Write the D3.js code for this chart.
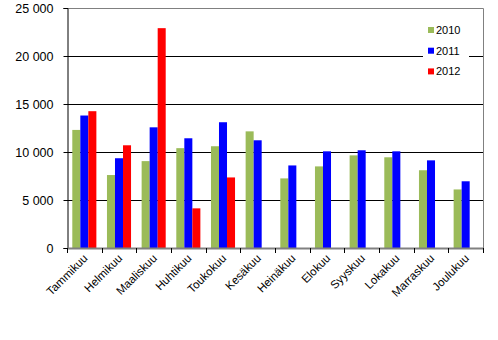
<!DOCTYPE html>
<html>
<head>
<meta charset="utf-8">
<script src="https://cdn.jsdelivr.net/npm/d3@7.9.0/dist/d3.min.js"></script>
<style>
  body { margin: 0; background: #fff; }
  svg text { font-family: "Liberation Sans", Arial, sans-serif; }
</style>
</head>
<body>
<svg id="chart" width="498" height="340"></svg>
<script>
const months = ["Tammikuu", "Helmikuu", "Maaliskuu", "Huhtikuu", "Toukokuu", "Kesäkuu",
  "Heinäkuu", "Elokuu", "Syyskuu", "Lokakuu", "Marraskuu", "Joulukuu"];
const years = ["2010", "2011", "2012"];
const values2010 = [12300, 7600, 9050, 10400, 10600, 12150, 7250, 8500, 9650, 9450, 8100, 6100];
const values2011 = [13800, 9350, 12570, 11430, 13100, 11220, 8600, 10070, 10180, 10070, 9130, 6950];
const values2012 = [14250, 10700, 22900, 4130, 7350, null, null, null, null, null, null, null];
const yTicks = [0, 5000, 10000, 15000, 20000, 25000];
const colors = ["#9bbb59", "#0000ff", "#ff0000"];

const series = [values2010, values2011, values2012];

const margin = { left: 67, right: 15, top: 8, bottom: 92 };
const width = 498, height = 340;
const x0 = margin.left, x1 = width - margin.right;
const yTop = margin.top, yBot = height - margin.bottom;

const svg = d3.select("#chart");

const x = d3.scaleBand().domain(months).range([x0, x1]);
const xInner = d3.scaleBand().domain(years).range([0, x.bandwidth()]).paddingInner(0).paddingOuter(0.66);
const y = d3.scaleLinear().domain([0, 25000]).range([yBot, yTop]);

// gridlines
svg.append("g")
  .selectAll("line")
  .data(yTicks.filter(d => d > 0 && d < 25000))
  .enter()
  .append("line")
  .attr("x1", x0).attr("x2", x1)
  .attr("y1", d => Math.round(y(d)) + 0.5)
  .attr("y2", d => Math.round(y(d)) + 0.5)
  .attr("stroke", "#000");

// plot border (top/right)
svg.append("path")
  .attr("d", `M${x0},${Math.round(yTop) + 0.5}H${x1 + 0.5}V${yBot}`)
  .attr("fill", "none")
  .attr("stroke", "#808080");

// bars
series.forEach((vals, si) => {
  svg.append("g")
    .selectAll("rect")
    .data(vals.map((v, i) => ({ m: months[i], v })).filter(d => d.v != null))
    .enter()
    .append("rect")
    .attr("x", d => x(d.m) + xInner(years[si]))
    .attr("width", xInner.bandwidth())
    .attr("y", d => y(d.v))
    .attr("height", d => yBot - y(d.v))
    .attr("fill", colors[si]);
});

// y axis
const yAxis = svg.append("g")
  .attr("transform", `translate(${x0 + 0.5},0)`)
  .call(d3.axisLeft(y).tickValues(yTicks).tickSize(4).tickPadding(10)
    .tickFormat(d => d3.format(",")(d).replace(/,/g, " ")));
yAxis.select(".domain").attr("stroke", "#000");
yAxis.selectAll("text").attr("font-size", 12.5).attr("fill", "#000").attr("dy", "0.35em");
yAxis.selectAll(".tick line").attr("stroke", "#000");

// x axis
const xAxis = svg.append("g")
  .attr("transform", `translate(0,${yBot})`);
xAxis.append("line")
  .attr("x1", x0).attr("x2", x1 + 1)
  .attr("y1", 0.5).attr("y2", 0.5)
  .attr("stroke", "#808080").attr("stroke-width", 2);
xAxis.selectAll(".tk")
  .data(d3.range(months.length + 1))
  .enter()
  .append("line")
  .attr("x1", i => Math.round(x0 + i * x.step()) + 0.5)
  .attr("x2", i => Math.round(x0 + i * x.step()) + 0.5)
  .attr("y1", 0).attr("y2", 5)
  .attr("stroke", "#000");
xAxis.selectAll("text")
  .data(months)
  .enter()
  .append("text")
  .attr("transform", d => `translate(${x(d) + x.bandwidth() / 2 + 4},${11}) rotate(-45)`)
  .attr("text-anchor", "end")
  .attr("font-size", 11.5)
  .attr("fill", "#000")
  .text(d => d);

// legend
const legend = svg.append("g").attr("transform", "translate(423,18)");
legend.append("rect")
  .attr("x", 0).attr("y", 0).attr("width", 46).attr("height", 64)
  .attr("fill", "#fff");
years.forEach((yr, i) => {
  legend.append("rect")
    .attr("x", 5).attr("y", 9 + i * 20.7).attr("width", 6).attr("height", 6)
    .attr("fill", colors[i]);
  legend.append("text")
    .attr("x", 13).attr("y", 12 + i * 20.7).attr("dy", "0.35em")
    .attr("font-size", 11)
    .attr("fill", "#000")
    .text(yr);
});
</script>
</body>
</html>
